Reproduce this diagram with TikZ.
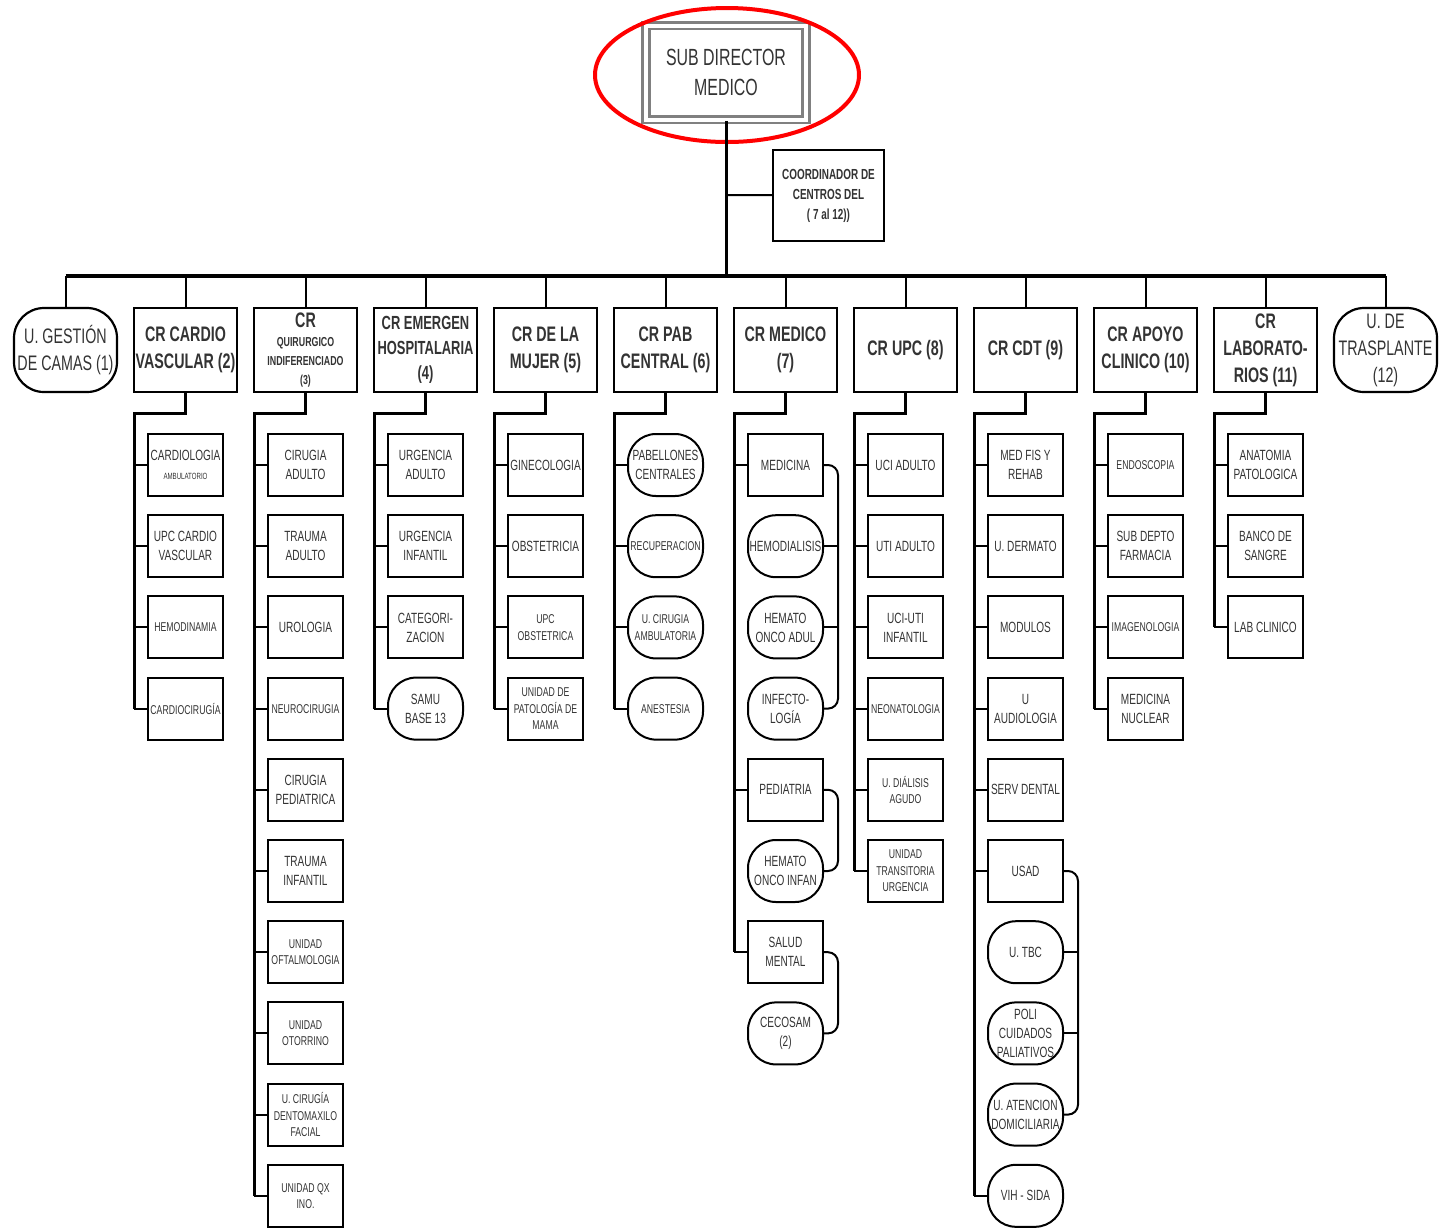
\documentclass[tikz,border=0pt]{standalone}
\usepackage{fontspec}
\usepackage{ifthen}
\setmainfont{Liberation Sans}[FakeStretch=0.68]

\begin{document}
\begin{tikzpicture}[x=0.5pt,y=-0.5pt,
  every node/.style={text=black!80,align=center,inner sep=0pt},
  link/.style={line width=1pt},
  spine/.style={line width=1.5pt},
  bus/.style={line width=1.7pt},
  topbox/.style={draw=black!50,double=white,double distance=2pt,line width=1.4pt,
    minimum width=80pt,minimum height=47pt,font=\fontsize{11.7}{15}\selectfont},
  coordbox/.style={draw,line width=1pt,minimum width=55.5pt,minimum height=45.5pt,
    font=\bfseries\fontsize{7.3}{10}\selectfont},
  head/.style={draw,line width=1.1pt,minimum width=51.5pt,minimum height=42pt,
    font=\bfseries\fontsize{10.5}{13.5}\selectfont},
  headround/.style={head,rounded corners=15pt,font=\fontsize{10.5}{13.5}\selectfont},
  headq/.style={head,font=\bfseries\fontsize{6.5}{9.5}\selectfont},
  headmid/.style={head,font=\bfseries\fontsize{9.5}{12.5}\selectfont},
  unit/.style={draw,line width=1pt,minimum width=37.5pt,minimum height=31pt,
    font=\fontsize{7.4}{9.5}\selectfont},
  unitsm/.style={unit,font=\fontsize{6.4}{8.2}\selectfont},
  unitround/.style={unit,rounded corners=14pt},
  unitroundsm/.style={unitround,font=\fontsize{6.4}{8.2}\selectfont}]

\useasboundingbox (0,0) rectangle (1441,1228);

% direccion
\node[topbox] (sub) at (726,72.5) {SUB DIRECTOR\\MEDICO};
\draw[red,line width=2pt] (727,75) ellipse [x radius=66pt,y radius=33.5pt];
\node[coordbox] (coord) at (828.5,195.5) {COORDINADOR DE\\CENTROS DEL\\( 7 al 12))};
\coordinate (trunk) at (726,276);
\coordinate (tj) at (726,195);
\draw[spine] (sub) -- (trunk);
\draw[link] (tj) -- (coord);

% centros de responsabilidad
\foreach \i/\sty/\txt in {1/headround/{U. GESTIÓN\\DE CAMAS (1)},
    2/head/{CR CARDIO\\VASCULAR (2)},
    3/headq/{{\fontsize{10.5}{12}\selectfont CR}\\QUIRURGICO\\INDIFERENCIADO\\(3)},
    4/headmid/{CR EMERGEN\\HOSPITALARIA\\(4)},
    5/head/{CR DE LA\\MUJER (5)},
    6/head/{CR PAB\\CENTRAL (6)},
    7/head/{CR MEDICO\\(7)},
    8/head/{CR UPC (8)},
    9/head/{CR CDT (9)},
    10/head/{CR APOYO\\CLINICO (10)},
    11/head/{CR\\LABORATO-\\RIOS (11)},
    12/headround/{U. DE\\TRASPLANTE\\(12)}}
  {
  \node[\sty] (h\i) at ({120*\i-54.5},350) {\txt};
  \coordinate (b\i) at ({120*\i-54.5},276);
  \draw[link] (b\i) -- (h\i);
  \ifthenelse{\i > 1 \AND \i < 12}{
    \coordinate (s\i-0) at ({120*\i-106},413);
    }{}
  }
\draw[bus] (b1) -- (b12);

% CR cardio vascular
\foreach \row/\sty/\txt in {1/unit/{CARDIOLOGIA\\{\fontsize{4.5}{5}\selectfont AMBULATORIO}},
    2/unit/{UPC CARDIO\\VASCULAR},3/unitsm/{HEMODINAMIA},4/unitsm/{CARDIOCIRUGÍA}}
  {
  \node[\sty] (c2-\row) at (185.5,{465+81.2*(\row-1)}) {\txt};
  \coordinate (s2-\row) at (134,{465+81.2*(\row-1)});
  \draw[link] (s2-\row) -- (c2-\row);
  }
\draw[spine] (h2.south) |- (s2-0) -- (s2-4);

% CR quirurgico
\foreach \row/\sty/\txt in {1/unit/{CIRUGIA\\ADULTO},2/unit/{TRAUMA\\ADULTO},3/unit/{UROLOGIA},
    4/unitsm/{NEUROCIRUGIA},5/unit/{CIRUGIA\\PEDIATRICA},6/unit/{TRAUMA\\INFANTIL},
    7/unitsm/{UNIDAD\\OFTALMOLOGIA},8/unitsm/{UNIDAD\\OTORRINO},
    9/unitsm/{U. CIRUGÍA\\DENTOMAXILO\\FACIAL},10/unitsm/{UNIDAD QX\\INO.}}
  {
  \node[\sty] (c3-\row) at (305.5,{465+81.2*(\row-1)}) {\txt};
  \coordinate (s3-\row) at (254,{465+81.2*(\row-1)});
  \draw[link] (s3-\row) -- (c3-\row);
  }
\draw[spine] (h3.south) |- (s3-0) -- (s3-10);

% CR emergencia
\foreach \row/\sty/\txt in {1/unit/{URGENCIA\\ADULTO},2/unit/{URGENCIA\\INFANTIL},
    3/unit/{CATEGORI-\\ZACION},4/unitround/{SAMU\\BASE 13}}
  {
  \node[\sty] (c4-\row) at (425.5,{465+81.2*(\row-1)}) {\txt};
  \coordinate (s4-\row) at (374,{465+81.2*(\row-1)});
  \draw[link] (s4-\row) -- (c4-\row);
  }
\draw[spine] (h4.south) |- (s4-0) -- (s4-4);

% CR de la mujer
\foreach \row/\sty/\txt in {1/unit/{GINECOLOGIA},2/unit/{OBSTETRICIA},
    3/unitsm/{UPC\\OBSTETRICA},4/unitsm/{UNIDAD DE\\PATOLOGÍA DE\\MAMA}}
  {
  \node[\sty] (c5-\row) at (545.5,{465+81.2*(\row-1)}) {\txt};
  \coordinate (s5-\row) at (494,{465+81.2*(\row-1)});
  \draw[link] (s5-\row) -- (c5-\row);
  }
\draw[spine] (h5.south) |- (s5-0) -- (s5-4);

% CR pabellon central
\foreach \row/\sty/\txt in {1/unitround/{PABELLONES\\CENTRALES},2/unitroundsm/{RECUPERACION},
    3/unitroundsm/{U. CIRUGIA\\AMBULATORIA},4/unitroundsm/{ANESTESIA}}
  {
  \node[\sty] (c6-\row) at (665.5,{465+81.2*(\row-1)}) {\txt};
  \coordinate (s6-\row) at (614,{465+81.2*(\row-1)});
  \draw[link] (s6-\row) -- (c6-\row);
  }
\draw[spine] (h6.south) |- (s6-0) -- (s6-4);

% CR medico
\foreach \row/\sty/\c/\txt in {1/unit/1/{MEDICINA},2/unitround/0/{HEMODIALISIS},
    3/unitround/0/{HEMATO\\ONCO ADUL},4/unitround/0/{INFECTO-\\LOGÍA},
    5/unit/1/{PEDIATRIA},6/unitround/0/{HEMATO\\ONCO INFAN},
    7/unit/1/{SALUD\\MENTAL},8/unitround/0/{CECOSAM\\(2)}}
  {
  \node[\sty] (c7-\row) at (785.5,{465+81.2*(\row-1)}) {\txt};
  \coordinate (s7-\row) at (734,{465+81.2*(\row-1)});
  \coordinate (k7-\row) at (838,{465+81.2*(\row-1)});
  \ifthenelse{\c = 1}{
    \draw[link] (s7-\row) -- (c7-\row);
    }{}
  }
\draw[spine] (h7.south) |- (s7-0) -- (s7-7);
\draw[link,rounded corners=5pt] (c7-1) -- (k7-1) -- (k7-4) -- (c7-4);
\draw[link] (c7-2) -- (k7-2);
\draw[link] (c7-3) -- (k7-3);
\draw[link,rounded corners=5pt] (c7-5) -- (k7-5) -- (k7-6) -- (c7-6);
\draw[link,rounded corners=5pt] (c7-7) -- (k7-7) -- (k7-8) -- (c7-8);

% CR UPC
\foreach \row/\sty/\txt in {1/unit/{UCI ADULTO},2/unit/{UTI ADULTO},3/unit/{UCI-UTI\\INFANTIL},
    4/unitsm/{NEONATOLOGIA},5/unitsm/{U. DIÁLISIS\\AGUDO},6/unitsm/{UNIDAD\\TRANSITORIA\\URGENCIA}}
  {
  \node[\sty] (c8-\row) at (905.5,{465+81.2*(\row-1)}) {\txt};
  \coordinate (s8-\row) at (854,{465+81.2*(\row-1)});
  \draw[link] (s8-\row) -- (c8-\row);
  }
\draw[spine] (h8.south) |- (s8-0) -- (s8-6);

% CR CDT
\foreach \row/\sty/\c/\txt in {1/unit/1/{MED FIS Y\\REHAB},2/unit/1/{U. DERMATO},3/unit/1/{MODULOS},
    4/unit/1/{U\\AUDIOLOGIA},5/unit/1/{SERV DENTAL},6/unit/1/{USAD},7/unitround/0/{U. TBC},
    8/unitround/0/{POLI\\CUIDADOS\\PALIATIVOS},9/unitround/0/{U. ATENCION\\DOMICILIARIA},
    10/unitround/1/{VIH - SIDA}}
  {
  \node[\sty] (c9-\row) at (1025.5,{465+81.2*(\row-1)}) {\txt};
  \coordinate (s9-\row) at (974,{465+81.2*(\row-1)});
  \coordinate (k9-\row) at (1078,{465+81.2*(\row-1)});
  \ifthenelse{\c = 1}{
    \draw[link] (s9-\row) -- (c9-\row);
    }{}
  }
\draw[spine] (h9.south) |- (s9-0) -- (s9-10);
\draw[link,rounded corners=5pt] (c9-6) -- (k9-6) -- (k9-9) -- (c9-9);
\draw[link] (c9-7) -- (k9-7);
\draw[link] (c9-8) -- (k9-8);

% CR apoyo clinico
\foreach \row/\sty/\txt in {1/unitsm/{ENDOSCOPIA},2/unit/{SUB DEPTO\\FARMACIA},
    3/unitsm/{IMAGENOLOGIA},4/unit/{MEDICINA\\NUCLEAR}}
  {
  \node[\sty] (c10-\row) at (1145.5,{465+81.2*(\row-1)}) {\txt};
  \coordinate (s10-\row) at (1094,{465+81.2*(\row-1)});
  \draw[link] (s10-\row) -- (c10-\row);
  }
\draw[spine] (h10.south) |- (s10-0) -- (s10-4);

% CR laboratorios
\foreach \row/\sty/\txt in {1/unit/{ANATOMIA\\PATOLOGICA},2/unit/{BANCO DE\\SANGRE},3/unit/{LAB CLINICO}}
  {
  \node[\sty] (c11-\row) at (1265.5,{465+81.2*(\row-1)}) {\txt};
  \coordinate (s11-\row) at (1214,{465+81.2*(\row-1)});
  \draw[link] (s11-\row) -- (c11-\row);
  }
\draw[spine] (h11.south) |- (s11-0) -- (s11-3);

\end{tikzpicture}
\end{document}
